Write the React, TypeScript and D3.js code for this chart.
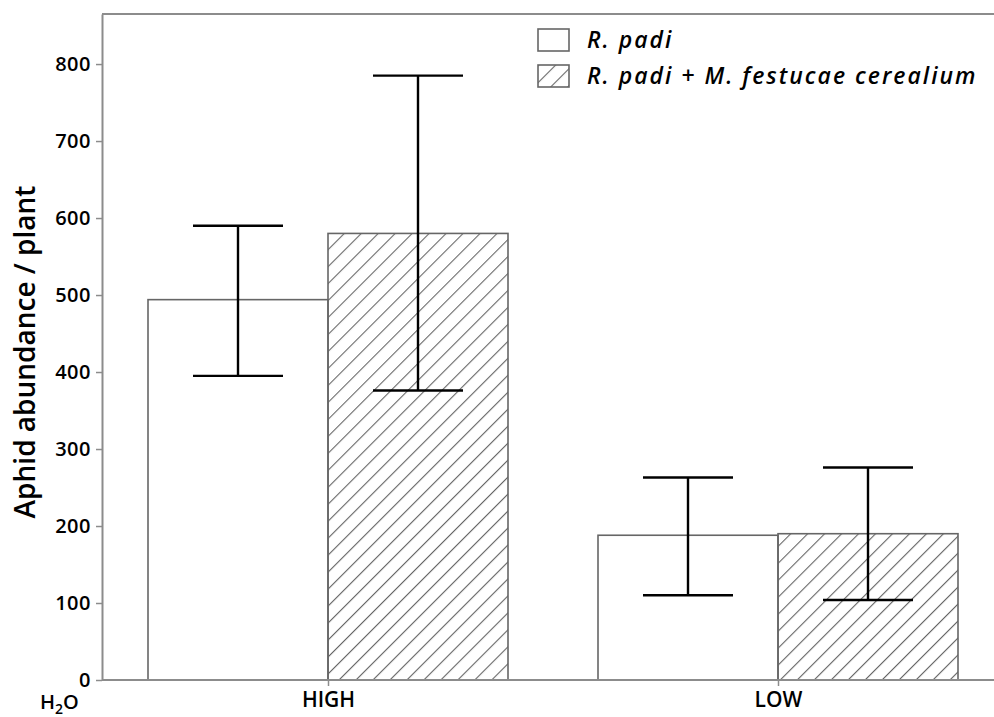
import { useEffect, useRef } from "react";
import * as d3 from "d3";

const categories = ["HIGH", "LOW"];
const seriesNames = ["R. padi", "R. padi + M. festucae cerealium"];
const rPadiMean = [494, 188];
const rPadiLow = [395, 110];
const rPadiHigh = [590, 263];
const mixedMean = [580, 190];
const mixedLow = [376, 104];
const mixedHigh = [785, 276];
const yTicks = [0, 100, 200, 300, 400, 500, 600, 700, 800];

function App() {
  const chartRef = useRef<SVGSVGElement>(null);

  useEffect(() => {
    const svg = d3.select(chartRef.current);
    svg.selectAll("*").remove();

    const width = 994;
    const height = 717;
    const margin = { top: 14, right: 0, bottom: 37, left: 102 };
    const axisColor = "#8c8c8c";
    const barColor = "#666";
    const font = "'Open Sans', 'DejaVu Sans', sans-serif";

    const x = d3
      .scaleBand()
      .domain(categories)
      .range([margin.left + 1, margin.left + 901])
      .padding(0);

    const inner = d3.scaleBand().domain(seriesNames).range([-180, 180]).padding(0);

    const y = d3
      .scaleLinear()
      .domain([0, 865])
      .range([height - margin.bottom, margin.top]);

    const defs = svg.append("defs");
    const pat = defs
      .append("pattern")
      .attr("id", "hatch")
      .attr("patternUnits", "userSpaceOnUse")
      .attr("width", 12)
      .attr("height", 12)
      .attr("patternTransform", "rotate(45)");
    pat
      .append("line")
      .attr("x1", 0)
      .attr("y1", -2)
      .attr("x2", 0)
      .attr("y2", 14)
      .attr("stroke", barColor)
      .attr("stroke-width", 2.2);

    const rows = categories.map((c, i) => [
      { cat: c, s: seriesNames[0], mean: rPadiMean[i], lo: rPadiLow[i], hi: rPadiHigh[i] },
      { cat: c, s: seriesNames[1], mean: mixedMean[i], lo: mixedLow[i], hi: mixedHigh[i] },
    ]).flat();

    const cx = (c: string) => (x(c) as number) + x.bandwidth() / 2;

    // bars
    svg
      .append("g")
      .selectAll("rect")
      .data(rows)
      .join("rect")
      .attr("x", (d) => cx(d.cat) + (inner(d.s) as number))
      .attr("y", (d) => y(d.mean))
      .attr("width", inner.bandwidth())
      .attr("height", (d) => y(0) - y(d.mean))
      .attr("fill", (d) => (d.s === seriesNames[0] ? "#fff" : "url(#hatch)"))
      .attr("stroke", barColor)
      .attr("stroke-width", 1.6);

    // error bars
    const err = svg.append("g").attr("stroke", "#000").attr("stroke-width", 2.4);
    rows.forEach((d) => {
      const mx = cx(d.cat) + (inner(d.s) as number) + inner.bandwidth() / 2;
      err.append("line").attr("x1", mx).attr("x2", mx).attr("y1", y(d.lo)).attr("y2", y(d.hi));
      [d.lo, d.hi].forEach((v) => {
        err
          .append("line")
          .attr("x1", mx - 45)
          .attr("x2", mx + 45)
          .attr("y1", y(v))
          .attr("y2", y(v));
      });
    });

    // axes
    const yAxis = svg
      .append("g")
      .attr("transform", `translate(${margin.left},0)`)
      .call(d3.axisLeft(y).tickValues(yTicks).tickSize(6).tickPadding(5).tickSizeOuter(0));
    yAxis.select(".domain").attr("stroke", axisColor).attr("stroke-width", 2);
    yAxis.selectAll(".tick line").attr("stroke", axisColor).attr("stroke-width", 1.5);
    yAxis
      .selectAll(".tick text")
      .attr("fill", "#000")
      .attr("font-size", 20)
      .attr("font-weight", 600)
      .attr("letter-spacing", 0.5)
      .attr("font-family", font);

    const xAxis = svg
      .append("g")
      .attr("transform", `translate(0,${y(0)})`)
      .call(
        d3
          .axisBottom(d3.scalePoint().domain(categories).range([cx("HIGH"), cx("LOW")]))
          .tickSize(6)
          .tickPadding(6)
          .tickSizeOuter(0)
      );
    xAxis.select(".domain").remove();
    xAxis.selectAll(".tick line").attr("stroke", axisColor).attr("stroke-width", 1.5);
    xAxis
      .selectAll(".tick text")
      .attr("fill", "#000")
      .attr("font-size", 21)
      .attr("font-weight", 600)
      .attr("font-family", font);

    svg
      .append("line")
      .attr("x1", margin.left)
      .attr("x2", width)
      .attr("y1", y(0))
      .attr("y2", y(0))
      .attr("stroke", axisColor)
      .attr("stroke-width", 2);
    svg
      .append("line")
      .attr("x1", margin.left)
      .attr("x2", width)
      .attr("y1", margin.top)
      .attr("y2", margin.top)
      .attr("stroke", axisColor)
      .attr("stroke-width", 2);

    // H2O label
    const h2o = svg
      .append("text")
      .attr("x", 40)
      .attr("y", 709)
      .attr("font-size", 20)
      .attr("font-weight", 600)
      .attr("font-family", font);
    h2o.append("tspan").text("H");
    h2o.append("tspan").attr("dy", 5).attr("font-size", 14).text("2");
    h2o.append("tspan").attr("dy", -5).text("O");

    // y title
    svg
      .append("text")
      .attr("transform", `translate(35,352) rotate(-90)`)
      .attr("text-anchor", "middle")
      .attr("font-size", 28)
      .attr("font-weight", 600)
      .attr("font-family", font)
      .text("Aphid abundance / plant");

    // legend
    const legend = svg.append("g").attr("transform", "translate(538,29)");
    seriesNames.forEach((s, i) => {
      const g = legend.append("g").attr("transform", `translate(0,${i * 36})`);
      g.append("rect")
        .attr("width", 31)
        .attr("height", 22)
        .attr("fill", i === 0 ? "#fff" : "url(#hatch)")
        .attr("stroke", barColor)
        .attr("stroke-width", 1.6);
      g.append("text")
        .attr("x", 49)
        .attr("y", 19)
        .attr("font-size", 23)
        .attr("font-style", "italic")
        .attr("font-weight", 600)
        .attr("letter-spacing", 2)
        .attr("font-family", font)
        .text(s);
    });
  }, []);

  return (
    <div style={{ position: "absolute", left: 0, top: 0 }}>
      <svg ref={chartRef} width="994" height="717" style={{ display: "block" }}></svg>
    </div>
  );
}

export default App;
